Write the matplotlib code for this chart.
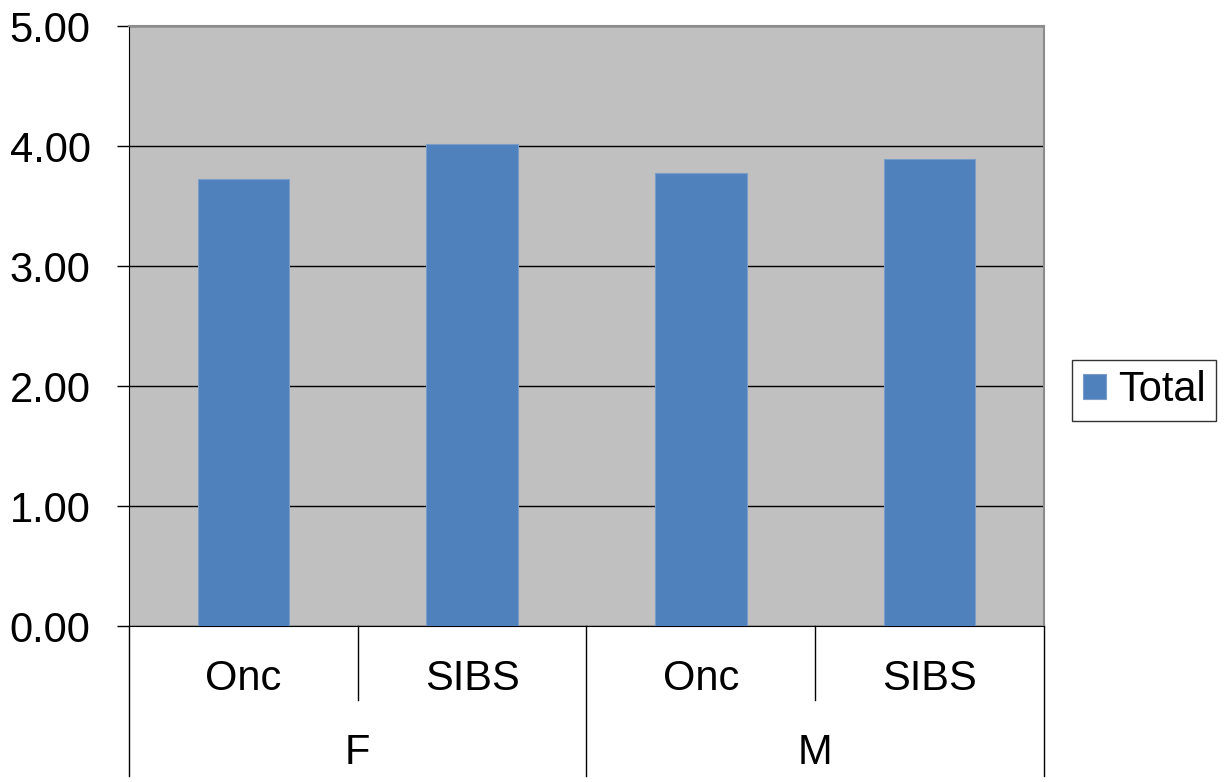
import matplotlib.pyplot as plt
import matplotlib.transforms as mtransforms

# Dados
groups = ['F', 'M']
subgroups = ['Onc', 'SIBS', 'Onc', 'SIBS']
values = [3.725, 4.02, 3.775, 3.895]
yticks = [0.0, 1.0, 2.0, 3.0, 4.0, 5.0]

plt.rcParams['font.family'] = ['Liberation Sans', 'DejaVu Sans']
fs = 30

fig = plt.figure(figsize=(12.25, 7.82), dpi=100)
ax = fig.add_axes([0.1053, 0.1989, 0.7469, 0.7675])
ax.set_facecolor('#C0C0C0')

x = list(range(len(values)))
ax.bar(x, values, width=0.4, color='#4F81BD', edgecolor='#7A9CC8', linewidth=0.8,
       label='Total', zorder=3)

ax.set_xlim(-0.5, len(values) - 0.5)
ax.set_ylim(0, 5)
ax.set_yticks(yticks)
ax.set_yticklabels([f'{v:.2f}' for v in yticks], fontsize=fs)
ax.tick_params(axis='y', length=8.6, width=1, direction='out', pad=19)
ax.set_xticks([])
ax.yaxis.grid(True, color='black', linewidth=1)
ax.set_axisbelow(True)

for side in ['top', 'right']:
    ax.spines[side].set_color('#8C8C8C')
    ax.spines[side].set_linewidth(1.5)
ax.spines['left'].set_color('black')
ax.spines['bottom'].set_color('black')

# Eixo de categorias em dois níveis
trans = mtransforms.blended_transform_factory(ax.transData, ax.transAxes)
for i in range(len(values) + 1):
    xb = i - 0.5
    y_end = -0.249 if i % 2 == 0 else -0.1224
    ax.plot([xb, xb], [0, y_end], color='black', linewidth=1,
            transform=trans, clip_on=False)

for i, lab in enumerate(subgroups):
    ax.text(i, -0.088, lab, transform=trans, ha='center', va='center', fontsize=fs)
for j, g in enumerate(groups):
    ax.text(2 * j + 0.5, -0.211, g, transform=trans, ha='center', va='center', fontsize=fs)

leg = fig.legend(loc='center', bbox_to_anchor=(0.934, 0.501), fontsize=fs,
                 frameon=True, fancybox=False, shadow=False, handlelength=0.55,
                 handleheight=0.55, handletextpad=0.3, borderpad=0.25)
leg.get_frame().set_edgecolor('black')
leg.get_frame().set_linewidth(1)

plt.savefig('out.png', dpi=100)
